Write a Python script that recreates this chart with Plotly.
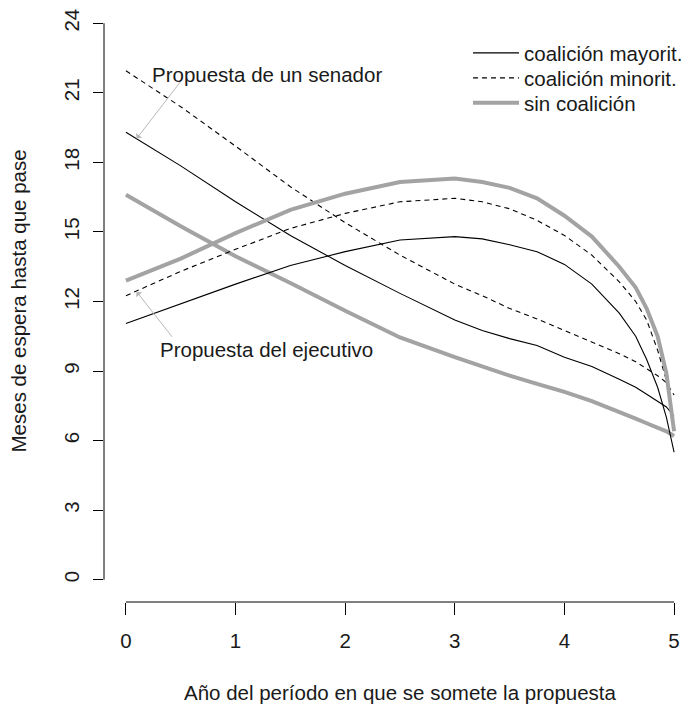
import plotly.graph_objects as go

# ---- data ----
years = [0, 0.5, 1, 1.5, 2, 2.5, 3, 3.25, 3.5, 3.75, 4, 4.25, 4.5, 4.65, 4.75, 4.85, 4.93, 5]

# Propuesta de un senador
sen_mayor = [19.3, 17.85, 16.3, 14.85, 13.55, 12.35, 11.2, 10.75, 10.4, 10.1, 9.6, 9.2, 8.65, 8.3, 8.0, 7.7, 7.45, 7.05]
sen_minor = [21.95, 20.4, 18.7, 16.95, 15.4, 14.0, 12.75, 12.25, 11.7, 11.25, 10.75, 10.25, 9.75, 9.4, 9.1, 8.8, 8.5, 7.97]
sen_sin = [16.6, 15.25, 13.95, 12.8, 11.6, 10.45, 9.6, 9.2, 8.8, 8.45, 8.1, 7.7, 7.25, 6.95, 6.75, 6.55, 6.4, 6.2]

# Propuesta del ejecutivo
eje_mayor = [11.05, 11.9, 12.75, 13.55, 14.15, 14.65, 14.8, 14.7, 14.45, 14.15, 13.6, 12.75, 11.5, 10.5, 9.5, 8.3, 7.0, 5.5]
eje_minor = [12.25, 13.3, 14.25, 15.15, 15.8, 16.3, 16.45, 16.3, 16.0, 15.5, 14.85, 14.0, 12.85, 12.0, 11.2, 9.9, 8.6, 6.6]
eje_sin = [12.9, 13.85, 14.95, 15.95, 16.65, 17.15, 17.3, 17.15, 16.9, 16.45, 15.7, 14.8, 13.5, 12.6, 11.7, 10.5, 8.9, 6.4]

series_names = ["coalición mayorit.", "coalición minorit.", "sin coalición"]
x_ticks = [0, 1, 2, 3, 4, 5]
y_ticks = [0, 3, 6, 9, 12, 15, 18, 21, 24]

x_title = "Año del período en que se somete la propuesta"
y_title = "Meses de espera hasta que pase"
label_sen = "Propuesta de un senador"
label_eje = "Propuesta del ejecutivo"

# ---- styling ----
FONT = "Liberation Sans, Arial, sans-serif"
FS = 20.5
TXT = "#1a1a1a"
styles = [
    dict(color="black", width=1.1, dash="solid"),
    dict(color="black", width=1.1, dash="5px,4px"),
    dict(color="#a3a3a3", width=4, dash="solid"),
]
H = 707
M_T, M_B = 1, 105
PLOT_H = H - M_T - M_B
legend_rows_px = [53, 78, 103]
legend_ids = ["legend", "legend2", "legend3"]

fig = go.Figure()
for name, ys, st, lid in zip(series_names, [sen_mayor, sen_minor, sen_sin], styles, legend_ids):
    fig.add_trace(go.Scatter(x=years, y=ys, mode="lines", name=name, line=st,
                             legendgroup=name, showlegend=True, legend=lid))
for name, ys, st in zip(series_names, [eje_mayor, eje_minor, eje_sin], styles):
    fig.add_trace(go.Scatter(x=years, y=ys, mode="lines", name=name, line=st,
                             legendgroup=name, showlegend=False))

# R-style axis lines spanning first to last tick
fig.add_shape(type="line", xref="x", yref="paper", x0=x_ticks[0], x1=x_ticks[-1], y0=0, y1=0,
              line=dict(color="black", width=1))
fig.add_shape(type="line", xref="paper", yref="y", x0=0, x1=0, y0=y_ticks[0], y1=y_ticks[-1],
              line=dict(color="black", width=1))

# Arrows + labels
arrow_col = "#b8b8b8"
fig.add_annotation(x=0.098, y=19.03, ax=0.508, ay=21.54, axref="x", ayref="y", xref="x", yref="y",
                   text="", showarrow=True, arrowhead=1, arrowsize=1.3, arrowwidth=1, arrowcolor=arrow_col)
fig.add_annotation(x=0.098, y=12.42, ax=0.432, ay=10.41, axref="x", ayref="y", xref="x", yref="y",
                   text="", showarrow=True, arrowhead=1, arrowsize=1.3, arrowwidth=1, arrowcolor=arrow_col)
fig.add_annotation(x=1.29, y=21.8, xref="x", yref="y", text=label_sen, showarrow=False,
                   font=dict(family=FONT, size=FS, color=TXT))
fig.add_annotation(x=1.28, y=9.91, xref="x", yref="y", text=label_eje, showarrow=False,
                   font=dict(family=FONT, size=FS, color=TXT))

# Axis titles
fig.add_annotation(x=2.5, y=-(692 - (H - M_B)) / PLOT_H, xref="x", yref="paper", text=x_title,
                   showarrow=False, xanchor="center", yanchor="middle",
                   font=dict(family=FONT, size=FS, color=TXT))
fig.add_annotation(x=-(104 - 18) / 592, y=12, xref="paper", yref="y", text=y_title, showarrow=False,
                   xanchor="center", yanchor="middle", textangle=-90,
                   font=dict(family=FONT, size=FS, color=TXT))

legend_common = dict(x=(468 - 104) / 592, xanchor="left", yanchor="middle",
                     bgcolor="rgba(0,0,0,0)", font=dict(family=FONT, size=FS, color=TXT),
                     itemwidth=46, borderwidth=0)
fig.update_layout(
    width=697, height=H,
    margin=dict(l=104, r=1, t=M_T, b=M_B),
    paper_bgcolor="white", plot_bgcolor="white",
    font=dict(family=FONT, size=FS, color=TXT),
    showlegend=True,
    legend=dict(y=1 - (legend_rows_px[0] - M_T) / PLOT_H, **legend_common),
    legend2=dict(y=1 - (legend_rows_px[1] - M_T) / PLOT_H, **legend_common),
    legend3=dict(y=1 - (legend_rows_px[2] - M_T) / PLOT_H, **legend_common),
)
fig.update_xaxes(range=[-0.2, 5.2], tickvals=x_ticks, ticks="outside", ticklen=12,
                 tickcolor="black", showgrid=False, zeroline=False, showline=False,
                 ticklabelstandoff=8,
                 tickfont=dict(family=FONT, size=FS, color=TXT))
fig.update_yaxes(range=[-0.96, 24.96], tickvals=y_ticks, ticks="outside", ticklen=10,
                 tickcolor="black", showgrid=False, zeroline=False, showline=False,
                 tickangle=-90, ticklabelstandoff=6,
                 tickfont=dict(family=FONT, size=FS, color=TXT))

fig.write_html("out.html")
